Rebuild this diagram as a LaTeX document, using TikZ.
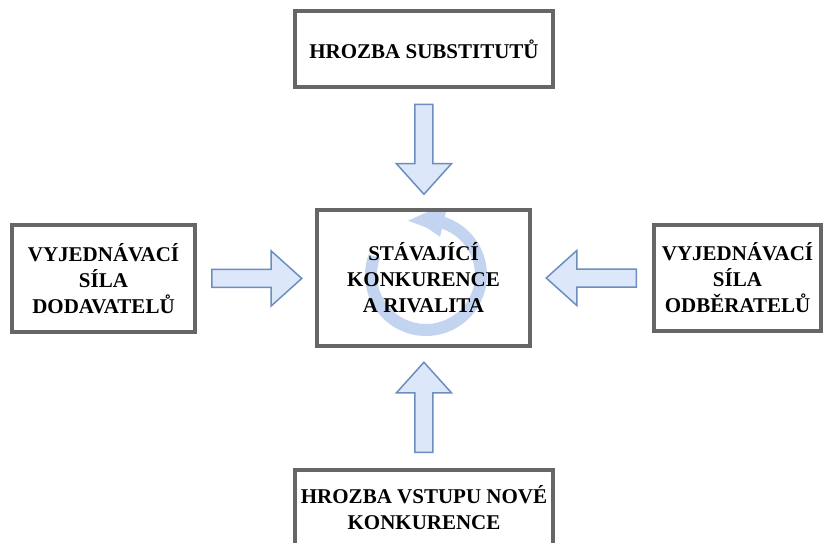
\documentclass[tikz,border=0pt]{standalone}
\usepackage{fontspec}
\setmainfont{Liberation Serif}
\usetikzlibrary{calc,shapes.arrows,arrows.meta,bending}
\definecolor{boxgray}{RGB}{102,102,102}
\definecolor{arrowline}{RGB}{108,142,191}
\definecolor{arrowfill}{RGB}{220,232,250}
\definecolor{ringblue}{RGB}{194,212,240}

\begin{document}
\begin{tikzpicture}[x=1pt,y=-1pt]
\tikzstyle{force}=[draw=boxgray,line width=4pt,align=center,inner sep=2pt,font=\bfseries\fontsize{21}{26}\selectfont]
\tikzstyle{blockarrow}=[single arrow,draw=arrowline,fill=arrowfill,line width=1.5pt,minimum height=90pt,inner sep=0pt,inner ysep=8.25pt,single arrow head extend=18.5pt,single arrow tip angle=84,anchor=tail]
\useasboundingbox (0,0) rectangle (825,542);
% rivalry ring behind the centre text
\coordinate (spin) at (426,275);
\draw[ringblue,line width=12pt,-{Triangle[width=26pt,length=38pt,bend]}] (spin) ++(-160:55) arc[start angle=-160,end angle=-471,radius=55];
% the five forces
\node[force,minimum width=258pt,minimum height=76pt] (subst) at (424,49) {HROZBA SUBSTITUTŮ};
\node[force,minimum width=213pt,minimum height=136pt] (mid) at (423.5,278) {STÁVAJÍCÍ\\KONKURENCE\\A RIVALITA};
\node[force,minimum width=183pt,minimum height=107pt] (dod) at (103.5,278.5) {VYJEDNÁVACÍ\\SÍLA\\DODAVATELŮ};
\node[force,minimum width=167pt,minimum height=106pt] (odb) at (737.5,278) {VYJEDNÁVACÍ\\SÍLA\\ODBĚRATELŮ};
\node[force,minimum width=258pt,minimum height=76pt] (nov) at (424,508) {HROZBA VSTUPU NOVÉ\\KONKURENCE};
\foreach \from/\fa/\to/\ta/\ang in {
	subst/south/mid/north/-90,
	dod/east/mid/west/0,
	odb/west/mid/east/180,
	nov/north/mid/south/90}
	\node[blockarrow,rotate=\ang] (to\from) at ($(\from.\fa)!0.5!(\to.\ta)!45pt!(\from.\fa)$) {};
\end{tikzpicture}
\end{document}
